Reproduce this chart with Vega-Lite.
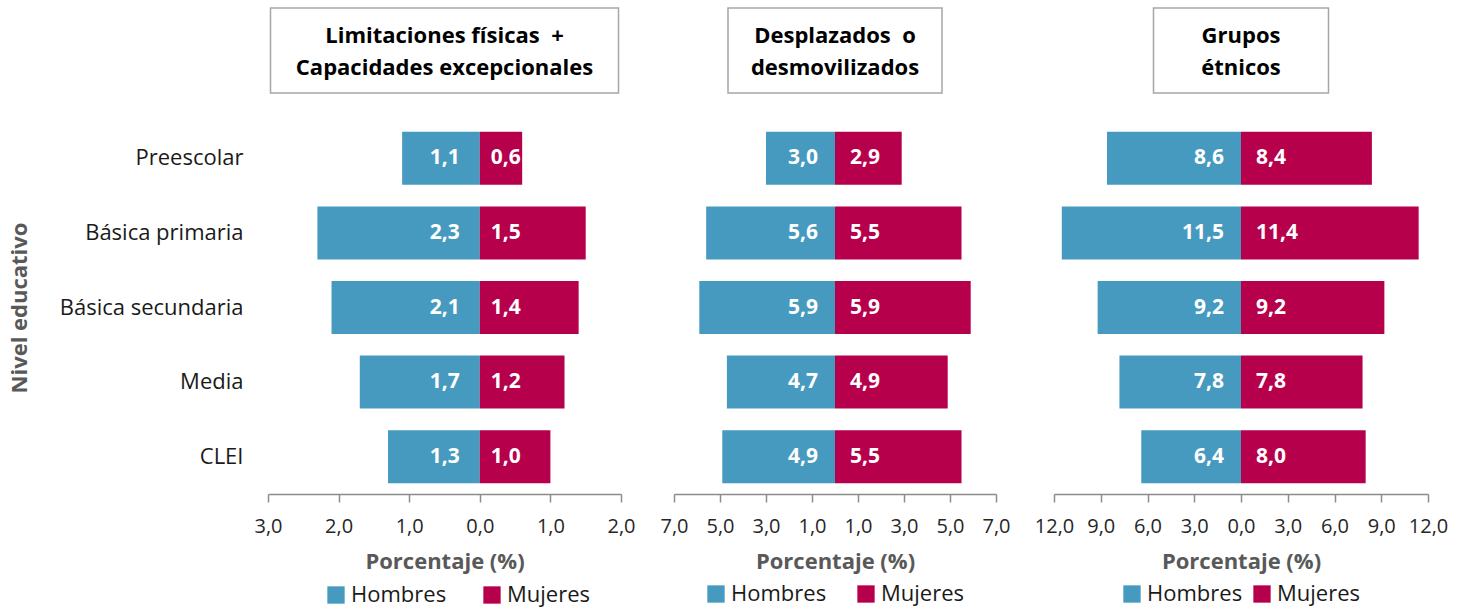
{
  "$schema": "https://vega.github.io/schema/vega-lite/v6.json",
  "padding": {"left": 8, "top": 7, "right": 5, "bottom": 2},
  "config": {
    "font": "Open Sans",
    "view": {"stroke": null},
    "axis": {"grid": false, "labelFontSize": 20, "labelColor": "#262626", "titleFontSize": 22, "titleColor": "#595959", "titleFontWeight": "bold", "domainColor": "#8c8c8c", "tickColor": "#8c8c8c", "domainWidth": 1.5, "tickWidth": 1.5},
    "legend": {"labelFontSize": 22, "labelColor": "#1a1a1a", "symbolType": "square", "symbolSize": 300, "symbolStrokeWidth": 0, "orient": "bottom", "direction": "horizontal", "offset": 11, "title": null, "layout": {"bottom": {"anchor": "middle"}}}
  },
  "datasets": {
    "d": [
      {"panel": "p1", "nivel": "Preescolar", "sexo": "Hombres", "valor": 1.1},
      {"panel": "p1", "nivel": "Preescolar", "sexo": "Mujeres", "valor": 0.6},
      {"panel": "p1", "nivel": "Básica primaria", "sexo": "Hombres", "valor": 2.3},
      {"panel": "p1", "nivel": "Básica primaria", "sexo": "Mujeres", "valor": 1.5},
      {"panel": "p1", "nivel": "Básica secundaria", "sexo": "Hombres", "valor": 2.1},
      {"panel": "p1", "nivel": "Básica secundaria", "sexo": "Mujeres", "valor": 1.4},
      {"panel": "p1", "nivel": "Media", "sexo": "Hombres", "valor": 1.7},
      {"panel": "p1", "nivel": "Media", "sexo": "Mujeres", "valor": 1.2},
      {"panel": "p1", "nivel": "CLEI", "sexo": "Hombres", "valor": 1.3},
      {"panel": "p1", "nivel": "CLEI", "sexo": "Mujeres", "valor": 1.0},
      {"panel": "p2", "nivel": "Preescolar", "sexo": "Hombres", "valor": 3.0},
      {"panel": "p2", "nivel": "Preescolar", "sexo": "Mujeres", "valor": 2.9},
      {"panel": "p2", "nivel": "Básica primaria", "sexo": "Hombres", "valor": 5.6},
      {"panel": "p2", "nivel": "Básica primaria", "sexo": "Mujeres", "valor": 5.5},
      {"panel": "p2", "nivel": "Básica secundaria", "sexo": "Hombres", "valor": 5.9},
      {"panel": "p2", "nivel": "Básica secundaria", "sexo": "Mujeres", "valor": 5.9},
      {"panel": "p2", "nivel": "Media", "sexo": "Hombres", "valor": 4.7},
      {"panel": "p2", "nivel": "Media", "sexo": "Mujeres", "valor": 4.9},
      {"panel": "p2", "nivel": "CLEI", "sexo": "Hombres", "valor": 4.9},
      {"panel": "p2", "nivel": "CLEI", "sexo": "Mujeres", "valor": 5.5},
      {"panel": "p3", "nivel": "Preescolar", "sexo": "Hombres", "valor": 8.6},
      {"panel": "p3", "nivel": "Preescolar", "sexo": "Mujeres", "valor": 8.4},
      {"panel": "p3", "nivel": "Básica primaria", "sexo": "Hombres", "valor": 11.5},
      {"panel": "p3", "nivel": "Básica primaria", "sexo": "Mujeres", "valor": 11.4},
      {"panel": "p3", "nivel": "Básica secundaria", "sexo": "Hombres", "valor": 9.2},
      {"panel": "p3", "nivel": "Básica secundaria", "sexo": "Mujeres", "valor": 9.2},
      {"panel": "p3", "nivel": "Media", "sexo": "Hombres", "valor": 7.8},
      {"panel": "p3", "nivel": "Media", "sexo": "Mujeres", "valor": 7.8},
      {"panel": "p3", "nivel": "CLEI", "sexo": "Hombres", "valor": 6.4},
      {"panel": "p3", "nivel": "CLEI", "sexo": "Mujeres", "valor": 8.0}
    ]
  },
  "resolve": {"scale": {"x": "independent", "color": "shared"}, "legend": {"color": "independent"}},
  "spacing": 23,
  "hconcat": [
    {
      "spacing": 28, "center": true, "bounds": "flush",
      "vconcat": [
        {
          "width": 348, "height": 85,
          "view": {"stroke": "#a6a6a6", "strokeWidth": 1.5},
          "data": {"values": [{"k": "a", "titulo": ["Limitaciones físicas\u00a0 +", "Capacidades excepcionales"]}]},
          "mark": {"type": "text", "fontWeight": "bold", "fontSize": 22, "lineHeight": 32, "dy": -15, "color": "#000000", "baseline": "middle"},
          "encoding": {
            "x": {"field": "k", "type": "nominal", "axis": null},
            "y": {"field": "k", "type": "nominal", "axis": null},
            "text": {"field": "titulo"}
          }
        },
        {
          "width": 353, "height": 373,
          "data": {"name": "d"},
          "transform": [
            {"filter": "datum.panel == 'p1'"},
            {"calculate": "datum.sexo == 'Hombres' ? -datum.valor : datum.valor", "as": "pos"},
            {"calculate": "replace(format(datum.valor, '.1f'), '.', ',')", "as": "etiqueta"}
          ],
          "encoding": {
            "y": {"field": "nivel", "type": "nominal", "sort": ["Preescolar", "Básica primaria", "Básica secundaria", "Media", "CLEI"], "scale": {"paddingInner": 0.29, "paddingOuter": 0.145},
              "axis": {"title": "Nivel educativo", "domain": false, "ticks": false, "labelFontSize": 22, "labelLimit": 400, "labelColor": "#1a1a1a", "labelPadding": 25, "titlePadding": 37}}
          },
          "layer": [
            {
              "mark": {"type": "bar"},
              "encoding": {
                "x": {"field": "pos", "type": "quantitative", "scale": {"domain": [-3, 2], "nice": false},
                  "axis": {"title": "Porcentaje (%)", "values": [-3, -2, -1, 0, 1, 2], "labelExpr": "replace(format(abs(datum.value), '.1f'), '.', ',')", "labelFlush": false, "labelOverlap": false, "tickSize": 8, "labelPadding": 14, "titlePadding": 15}},
                "color": {"field": "sexo", "type": "nominal", "scale": {"domain": ["Hombres", "Mujeres"], "range": ["#469AC0", "#B7004C"]}, "legend": {"columnPadding": 34, "orient": "none", "legendX": 57, "legendY": 576}}
              }
            },
            {
              "transform": [{"filter": "datum.sexo == 'Hombres'"}],
              "mark": {"type": "text", "align": "right", "dx": -20, "color": "white", "fontWeight": "bold", "fontSize": 21},
              "encoding": {"x": {"datum": 0}, "text": {"field": "etiqueta"}}
            },
            {
              "transform": [{"filter": "datum.sexo == 'Mujeres'"}],
              "mark": {"type": "text", "align": "left", "dx": 11, "color": "white", "fontWeight": "bold", "fontSize": 21},
              "encoding": {"x": {"datum": 0}, "text": {"field": "etiqueta"}}
            }
          ]
        }
      ]
    },
    {
      "spacing": 28, "center": true, "bounds": "flush",
      "vconcat": [
        {
          "width": 214, "height": 85,
          "view": {"stroke": "#a6a6a6", "strokeWidth": 1.5},
          "data": {"values": [{"k": "a", "titulo": ["Desplazados\u00a0 o", "desmovilizados"]}]},
          "mark": {"type": "text", "fontWeight": "bold", "fontSize": 22, "lineHeight": 32, "dy": -15, "color": "#000000", "baseline": "middle"},
          "encoding": {
            "x": {"field": "k", "type": "nominal", "axis": null},
            "y": {"field": "k", "type": "nominal", "axis": null},
            "text": {"field": "titulo"}
          }
        },
        {
          "width": 322, "height": 373,
          "data": {"name": "d"},
          "transform": [
            {"filter": "datum.panel == 'p2'"},
            {"calculate": "datum.sexo == 'Hombres' ? -datum.valor : datum.valor", "as": "pos"},
            {"calculate": "replace(format(datum.valor, '.1f'), '.', ',')", "as": "etiqueta"}
          ],
          "encoding": {
            "y": {"field": "nivel", "type": "nominal", "sort": ["Preescolar", "Básica primaria", "Básica secundaria", "Media", "CLEI"], "scale": {"paddingInner": 0.29, "paddingOuter": 0.145}, "axis": null}
          },
          "layer": [
            {
              "mark": {"type": "bar"},
              "encoding": {
                "x": {"field": "pos", "type": "quantitative", "scale": {"domain": [-7, 7], "nice": false},
                  "axis": {"title": "Porcentaje (%)", "values": [-7, -5, -3, -1, 1, 3, 5, 7], "labelExpr": "replace(format(abs(datum.value), '.1f'), '.', ',')", "labelFlush": false, "labelOverlap": false, "tickSize": 8, "labelPadding": 14, "titlePadding": 15}},
                "color": {"field": "sexo", "type": "nominal", "scale": {"domain": ["Hombres", "Mujeres"], "range": ["#469AC0", "#B7004C"]}, "legend": {"columnPadding": 28}}
              }
            },
            {
              "transform": [{"filter": "datum.sexo == 'Hombres'"}],
              "mark": {"type": "text", "align": "right", "dx": -17, "color": "white", "fontWeight": "bold", "fontSize": 21},
              "encoding": {"x": {"datum": 0}, "text": {"field": "etiqueta"}}
            },
            {
              "transform": [{"filter": "datum.sexo == 'Mujeres'"}],
              "mark": {"type": "text", "align": "left", "dx": 15, "color": "white", "fontWeight": "bold", "fontSize": 21},
              "encoding": {"x": {"datum": 0}, "text": {"field": "etiqueta"}}
            }
          ]
        }
      ]
    },
    {
      "spacing": 28, "center": true, "bounds": "flush",
      "vconcat": [
        {
          "width": 175, "height": 85,
          "view": {"stroke": "#a6a6a6", "strokeWidth": 1.5},
          "data": {"values": [{"k": "a", "titulo": ["Grupos", "étnicos"]}]},
          "mark": {"type": "text", "fontWeight": "bold", "fontSize": 22, "lineHeight": 32, "dy": -15, "color": "#000000", "baseline": "middle"},
          "encoding": {
            "x": {"field": "k", "type": "nominal", "axis": null},
            "y": {"field": "k", "type": "nominal", "axis": null},
            "text": {"field": "titulo"}
          }
        },
        {
          "width": 374, "height": 373,
          "data": {"name": "d"},
          "transform": [
            {"filter": "datum.panel == 'p3'"},
            {"calculate": "datum.sexo == 'Hombres' ? -datum.valor : datum.valor", "as": "pos"},
            {"calculate": "replace(format(datum.valor, '.1f'), '.', ',')", "as": "etiqueta"}
          ],
          "encoding": {
            "y": {"field": "nivel", "type": "nominal", "sort": ["Preescolar", "Básica primaria", "Básica secundaria", "Media", "CLEI"], "scale": {"paddingInner": 0.29, "paddingOuter": 0.145}, "axis": null}
          },
          "layer": [
            {
              "mark": {"type": "bar"},
              "encoding": {
                "x": {"field": "pos", "type": "quantitative", "scale": {"domain": [-12, 12], "nice": false},
                  "axis": {"title": "Porcentaje (%)", "values": [-12, -9, -6, -3, 0, 3, 6, 9, 12], "labelExpr": "replace(format(abs(datum.value), '.1f'), '.', ',')", "labelFlush": false, "labelOverlap": false, "tickSize": 8, "labelPadding": 14, "titlePadding": 15}},
                "color": {"field": "sexo", "type": "nominal", "scale": {"domain": ["Hombres", "Mujeres"], "range": ["#469AC0", "#B7004C"]}, "legend": {"columnPadding": 8}}
              }
            },
            {
              "transform": [{"filter": "datum.sexo == 'Hombres'"}],
              "mark": {"type": "text", "align": "right", "dx": -17, "color": "white", "fontWeight": "bold", "fontSize": 21},
              "encoding": {"x": {"datum": 0}, "text": {"field": "etiqueta"}}
            },
            {
              "transform": [{"filter": "datum.sexo == 'Mujeres'"}],
              "mark": {"type": "text", "align": "left", "dx": 15, "color": "white", "fontWeight": "bold", "fontSize": 21},
              "encoding": {"x": {"datum": 0}, "text": {"field": "etiqueta"}}
            }
          ]
        }
      ]
    }
  ]
}
